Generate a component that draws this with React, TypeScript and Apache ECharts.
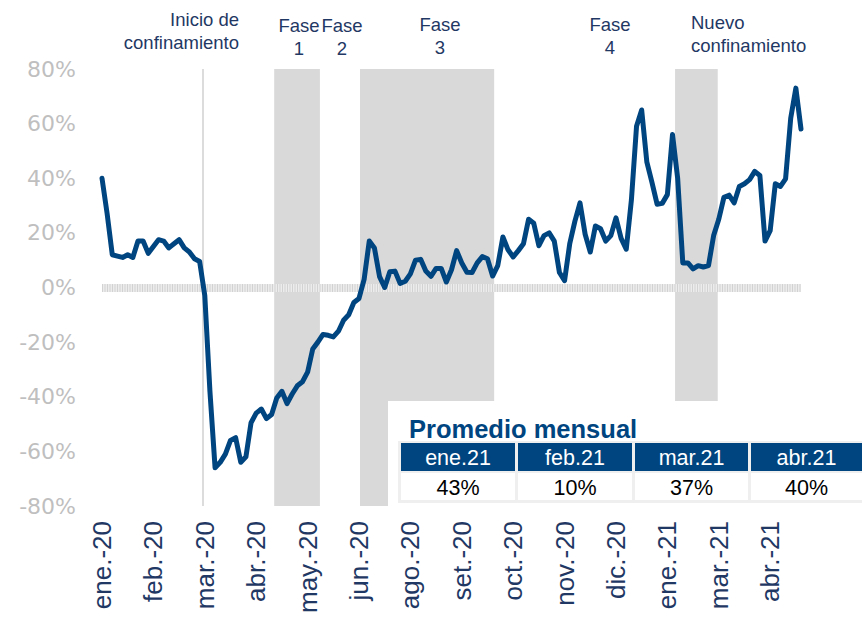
import React, { useEffect, useRef } from "react";
import * as echarts from "echarts";

const tickLabels = ["ene.-20", "feb.-20", "mar.-20", "abr.-20", "may.-20", "jun.-20", "ago.-20", "set.-20", "oct.-20", "nov.-20", "dic.-20", "ene.-21", "mar.-21", "abr.-21"];
const LABEL_STEP = 10;

const values = [
  40, 27, 12, 11.5, 11, 12, 11, 17, 17, 12.5,
  15, 17.5, 17, 14.5, 16, 17.5, 14.5, 13, 10.5, 9.5,
  -3, -38, -66, -64, -61, -56, -55, -64, -62, -49.5,
  -46, -44.5, -48, -46.5, -40.5, -38, -42.5, -39, -36, -34.5,
  -31, -22.5, -20, -17.2, -17.5, -18.1, -16, -12, -10, -5.5,
  -4, 3, 17, 14.5, 4, 0, 5.8, 6, 1.5, 2.3,
  5, 10, 10.3, 6, 4.1, 7, 7, 2, 6.5, 13.5,
  9, 5.6, 5.5, 9, 11.3, 10.5, 4.2, 8, 18.5, 13.8,
  11.2, 13.5, 16, 25, 23.5, 15.3, 19, 20, 17, 5.5,
  2.5, 16, 24.2, 31, 19.5, 13, 22.5, 21.5, 17, 19,
  25.5, 18, 14, 32, 59, 65, 46, 38.5, 30.5, 30.8,
  34, 56, 40, 9, 9, 6.8, 8, 7.5, 8, 19,
  25, 33, 33.8, 31, 37, 38, 39.5, 42.5, 41, 17,
  20.8, 38, 37, 39.8, 62, 73, 58,
];

// shaded periods (in data index units)
const phaseBands = [
  [33.5, 42.4],
  [50.2, 76.3],
  [111.5, 119.8],
];
const lockdownStart = 19.65;

const tableMonths = ["ene.21", "feb.21", "mar.21", "abr.21"];
const tableValues = [43, 10, 37, 40];

const NAVY = "#1F3864";
const BLUE = "#00457F";
const ARIAL = "Arial, 'Liberation Sans', sans-serif";

export default function App() {
  const ref = useRef<HTMLDivElement>(null);
  useEffect(() => {
    document.body.style.margin = "0";
    if (!ref.current) return;
    const chart = echarts.init(ref.current, null, { renderer: "svg" });

    const cellX = [401, 518, 635, 751];
    const cellW = [114, 114, 113, 111];
    const tableGraphics: any[] = [
      { type: "rect", shape: { x: 388, y: 401, width: 474, height: 106 }, style: { fill: "#ffffff" }, z: 100 },
      { type: "rect", shape: { x: 398, y: 441, width: 470, height: 62 }, style: { fill: "#efefef" }, z: 101 },
      {
        type: "text", x: 409, y: 429, z: 102,
        style: { text: "Promedio mensual", fill: BLUE, font: "bold 25.5px " + ARIAL, textAlign: "left", textVerticalAlign: "middle" },
      },
    ];
    tableMonths.forEach((m, k) => {
      tableGraphics.push({ type: "rect", shape: { x: cellX[k], y: 443, width: cellW[k], height: 28 }, style: { fill: BLUE }, z: 102 });
      tableGraphics.push({ type: "rect", shape: { x: cellX[k], y: 473, width: cellW[k], height: 27 }, style: { fill: "#ffffff" }, z: 102 });
      tableGraphics.push({
        type: "text", x: cellX[k] + cellW[k] / 2, y: 458, z: 103,
        style: { text: m, fill: "#ffffff", font: "21.5px " + ARIAL, textAlign: "center", textVerticalAlign: "middle" },
      });
      tableGraphics.push({
        type: "text", x: cellX[k] + cellW[k] / 2, y: 488, z: 103,
        style: { text: tableValues[k] + "%", fill: "#000000", font: "21.5px " + ARIAL, textAlign: "center", textVerticalAlign: "middle" },
      });
    });

    const annFont = "18.5px " + ARIAL;
    const ann = (text: string, x: number, y: number, align: string) => ({
      type: "text", x, y, z: 100,
      style: { text, fill: NAVY, font: annFont, textAlign: align, textVerticalAlign: "middle", lineHeight: 23 },
    });

    chart.setOption({
      animation: false,
      backgroundColor: "#ffffff",
      grid: { left: 102, right: 61, top: 69, bottom: 111, containLabel: false, outerBoundsMode: "none" },
      xAxis: {
        type: "value",
        min: 0,
        max: values.length - 1,
        interval: LABEL_STEP,
        axisLine: { show: false, onZero: false },
        axisTick: { show: false },
        splitLine: { show: false },
        axisLabel: {
          rotate: 90,
          margin: 15,
          color: NAVY,
          fontSize: 26,
          fontFamily: ARIAL,
          showMaxLabel: false,
          formatter: (v: number) => {
            const k = Math.round(v / LABEL_STEP);
            return v % LABEL_STEP === 0 && tickLabels[k] ? tickLabels[k] : "";
          },
        },
      },
      yAxis: {
        type: "value",
        min: -80,
        max: 80,
        interval: 20,
        axisLine: { show: false },
        axisTick: { show: false },
        splitLine: { show: false },
        axisLabel: {
          formatter: "{value}%",
          color: "#BFBFBF",
          fontSize: 22,
          margin: 26,
          fontFamily: "'DejaVu Sans', sans-serif",
        },
      },
      series: [
        {
          type: "line",
          data: values.map((v, i) => [i, v]),
          symbol: "none",
          lineStyle: { color: BLUE, width: 5, join: "round", cap: "round" },
          z: 5,
          markArea: {
            silent: true,
            itemStyle: { color: "#D9D9D9" },
            data: phaseBands.map((b) => [{ xAxis: b[0] }, { xAxis: b[1] }]),
          },
          markLine: {
            silent: true,
            symbol: "none",
            label: { show: false },
            data: [
              { yAxis: 0, lineStyle: { color: "#ECECEC", width: 8, type: "solid" } },
              { yAxis: 0, lineStyle: { color: "#D2D2D2", width: 8, type: [1, 1.5] } },
              { xAxis: lockdownStart, lineStyle: { color: "#D0D0D0", width: 1.5, type: "solid" } },
            ],
          },
        },
      ],
      graphic: [
        ann("Inicio de\nconfinamiento", 239, 31, "right"),
        ann("Fase\n1", 299, 37, "center"),
        ann("Fase\n2", 342, 37, "center"),
        ann("Fase\n3", 440, 36, "center"),
        ann("Fase\n4", 610, 35.5, "center"),
        ann("Nuevo\nconfinamiento", 691, 34, "left"),
        ...tableGraphics,
      ],
    });
    return () => chart.dispose();
  }, []);
  return <div ref={ref} style={{ width: 862, height: 617 }} />;
}
